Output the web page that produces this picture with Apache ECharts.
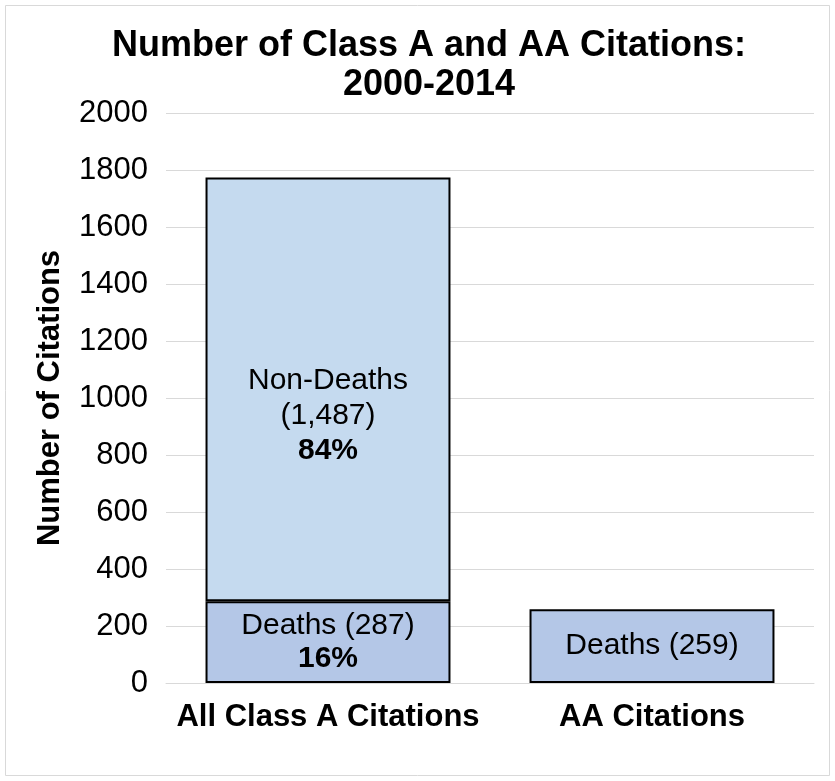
<!DOCTYPE html>
<html>
<head>
<meta charset="utf-8">
<script src="https://cdn.jsdelivr.net/npm/echarts@6/dist/echarts.min.js"></script>
<style>
  html, body { margin: 0; padding: 0; background: #fff; }
  #main { width: 835px; height: 781px; }
</style>
</head>
<body>
<div id="main"></div>
<script>
// data
var categories = ['All Class A Citations', 'AA Citations'];
var deaths = [287, 259];
var nonDeaths = [1487, null];
var deathsPct = ['16%', ''];
var nonDeathsPct = ['84%', ''];
var yTicks = { min: 0, max: 2000, interval: 200 };

var FONT = '"Liberation Sans", Arial, sans-serif';

function fmtNum(v) {
  return String(v).replace(/\B(?=(\d{3})+(?!\d))/g, ',');
}

var option = {
  backgroundColor: '#fff',
  animation: false,
  graphic: [{
    type: 'rect',
    shape: { x: 5.5, y: 5.5, width: 824, height: 770 },
    style: { fill: 'none', stroke: '#d9d9d9', lineWidth: 1 },
    silent: true
  }],
  title: {
    text: 'Number of Class A and AA Citations:\n2000-2014',
    left: 424,
    textAlign: 'center',
    top: 22,
    textStyle: {
      fontFamily: FONT,
      fontSize: 36,
      fontWeight: 'bold',
      color: '#000',
      lineHeight: 39
    }
  },
  grid: { left: 166, right: 21, top: 113, bottom: 98, containLabel: false },
  xAxis: {
    type: 'category',
    data: categories,
    axisLine: { lineStyle: { color: '#d9d9d9', width: 1 } },
    axisTick: { show: false },
    axisLabel: {
      interval: 0,
      fontFamily: FONT, fontSize: 31, fontWeight: 'bold', color: '#000', margin: 19
    }
  },
  yAxis: {
    type: 'value',
    min: yTicks.min,
    max: yTicks.max,
    interval: yTicks.interval,
    name: 'Number of Citations',
    nameLocation: 'middle',
    nameGap: 100,
    nameTextStyle: { fontFamily: FONT, fontSize: 31, fontWeight: 'bold', color: '#000' },
    axisLine: { show: false },
    axisTick: { show: false },
    splitLine: { lineStyle: { color: '#d9d9d9', width: 1 } },
    axisLabel: {
      fontFamily: FONT, fontSize: 31, color: '#000', margin: 18,
      formatter: function (v) { return String(v); }
    }
  },
  series: [
    {
      name: 'Deaths',
      type: 'bar',
      stack: 'total',
      barWidth: '75.6%',
      data: deaths,
      itemStyle: { color: '#b4c7e7', borderColor: '#000', borderWidth: 2 },
      label: {
        show: true,
        position: 'inside',
        formatter: function (p) {
          var pct = deathsPct[p.dataIndex];
          return '{a|Deaths (' + fmtNum(p.value) + ')}' + (pct ? '\n{b|' + pct + '}' : '');
        },
        rich: {
          a: { fontFamily: FONT, fontSize: 30, color: '#000', lineHeight: 33 },
          b: { fontFamily: FONT, fontSize: 30, fontWeight: 'bold', color: '#000', lineHeight: 33 }
        }
      }
    },
    {
      name: 'Non-Deaths',
      type: 'bar',
      stack: 'total',
      barWidth: '75.6%',
      data: nonDeaths,
      itemStyle: { color: '#c5daef', borderColor: '#000', borderWidth: 2 },
      label: {
        show: true,
        position: 'inside',
        offset: [0, 26],
        formatter: function (p) {
          return '{a|Non-Deaths}\n{a|(' + fmtNum(p.value) + ')}\n{b|' + nonDeathsPct[p.dataIndex] + '}';
        },
        rich: {
          a: { fontFamily: FONT, fontSize: 30, color: '#000', lineHeight: 35 },
          b: { fontFamily: FONT, fontSize: 30, fontWeight: 'bold', color: '#000', lineHeight: 35 }
        }
      }
    }
  ]
};

echarts.init(document.getElementById('main')).setOption(option);
</script>
</body>
</html>
